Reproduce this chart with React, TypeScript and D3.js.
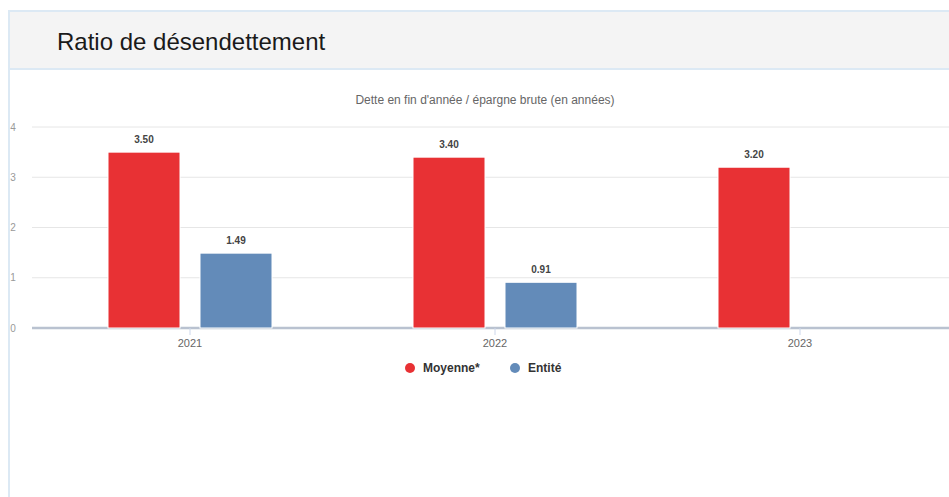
import React from "react";
import * as d3 from "d3";

const years = ["2021", "2022", "2023"];
const seriesNames = ["Moyenne*", "Entité"];
const moyenne: (number | null)[] = [3.5, 3.4, 3.2];
const entite: (number | null)[] = [1.49, 0.91, null];
const seriesColors = ["#e83134", "#638bb9"];
const yTicks = [0, 1, 2, 3, 4];
const title = "Ratio de désendettement";
const subtitle = "Dette en fin d'année / épargne brute (en années)";

const W = 949;
const H = 497;
const FONT = "'Liberation Sans', Arial, sans-serif";

export default function App() {
  const seriesValues = [moyenne, entite];
  const y = d3.scaleLinear().domain([0, 4]).range([328, 127]);
  const x0 = d3.scaleBand<string>().domain(years).range([37.5, 952.5]);
  const groupW = 164;
  const x1 = d3
    .scaleBand<string>()
    .domain(seriesNames)
    .range([-groupW / 2, groupW / 2])
    .paddingInner(20 / 92);

  const gridX0 = 32;
  const gridX1 = 960;

  return (
    <svg
      width={W}
      height={H}
      style={{ position: "absolute", left: 0, top: 0, background: "#fff" }}
      fontFamily={FONT}
    >
      {/* panel */}
      <rect x={9} y={11} width={W + 20} height={58} fill="#f4f4f4" />
      <line x1={9} x2={W + 10} y1={11} y2={11} stroke="#dce9f4" strokeWidth={2} />
      <line x1={9} x2={W + 10} y1={69} y2={69} stroke="#dce9f4" strokeWidth={2} />
      <line x1={9} x2={9} y1={10} y2={H + 5} stroke="#dce9f4" strokeWidth={2} />
      <text x={57} y={50} fontSize={24} fill="#1a1a1a">
        {title}
      </text>

      {/* subtitle */}
      <text x={485} y={104} fontSize={12} fill="#666" textAnchor="middle">
        {subtitle}
      </text>

      {/* grid */}
      {yTicks.map((t) => (
        <g key={t}>
          {t !== 0 && (
            <line x1={gridX0} x2={gridX1} y1={y(t)} y2={y(t)} stroke="#e6e6e6" strokeWidth={1} />
          )}
          <text x={13} y={y(t) + 3.5} fontSize={10} fill="#999" textAnchor="middle">
            {t}
          </text>
        </g>
      ))}

      {/* x axis */}
      <line x1={gridX0} x2={gridX1} y1={y(0)} y2={y(0)} stroke="#b9c2d0" strokeWidth={2.5} />
      {years.map((yr) => {
        const cx = (x0(yr) ?? 0) + x0.bandwidth() / 2;
        return (
          <g key={yr}>
            <line x1={cx} x2={cx} y1={y(0)} y2={y(0) + 7} stroke="#ccd6eb" strokeWidth={1} />
            <text x={cx} y={347} fontSize={11} fill="#666" textAnchor="middle">
              {yr}
            </text>
          </g>
        );
      })}

      {/* bars */}
      {years.map((yr, i) => {
        const cx = (x0(yr) ?? 0) + x0.bandwidth() / 2;
        return (
          <g key={yr}>
            {seriesNames.map((s, si) => {
              const v = seriesValues[si][i];
              if (v == null) return null;
              const bx = cx + (x1(s) ?? 0);
              const top = y(v);
              return (
                <g key={s}>
                  <rect
                    x={bx}
                    y={top}
                    width={x1.bandwidth()}
                    height={y(0) - top}
                    fill={seriesColors[si]}
                    stroke="#fff"
                    strokeWidth={1}
                  />
                  <text
                    x={bx + x1.bandwidth() / 2}
                    y={top - 9}
                    fontSize={10}
                    fontWeight="bold"
                    fill="#444"
                    textAnchor="middle"
                  >
                    {v.toFixed(2)}
                  </text>
                </g>
              );
            })}
          </g>
        );
      })}

      {/* legend */}
      {seriesNames.map((s, si) => {
        const lx = si === 0 ? 410 : 515;
        return (
          <g key={s}>
            <circle cx={lx} cy={368} r={5} fill={seriesColors[si]} />
            <text x={lx + 13} y={372} fontSize={12} fontWeight="bold" fill="#333">
              {s}
            </text>
          </g>
        );
      })}
    </svg>
  );
}
